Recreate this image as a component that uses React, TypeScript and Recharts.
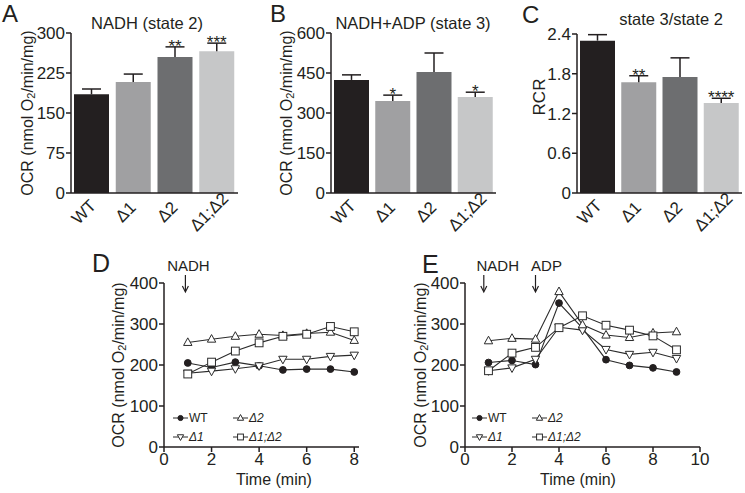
import React from 'react';
import {
  ComposedChart,
  Bar,
  XAxis,
  YAxis,
  Cell,
  LabelList,
  Label,
  LineChart,
  Line,
  ReferenceDot,
  Legend,
} from 'recharts';

// ---------- data ----------
const categories = ['WT', 'Δ1', 'Δ2', 'Δ1;Δ2'];
const barColors = ['#231f20', '#a0a0a2', '#6d6e70', '#c6c7c8'];

const state2Mean = [185, 208, 255, 266];
const state2Err = [10, 15, 19, 15];
const state2Sig = ['', '', '**', '***'];
const state2Ticks = [0, 75, 150, 225, 300];

const state3Mean = [424, 345, 454, 360];
const state3Err = [19, 22, 71, 18];
const state3Sig = ['', '*', '', '*'];
const state3Ticks = [0, 150, 300, 450, 600];

const rcrMean = [2.3, 1.67, 1.75, 1.36];
const rcrErr = [0.09, 0.1, 0.29, 0.07];
const rcrSig = ['', '**', '', '****'];
const rcrTicks = [0, 0.6, 1.2, 1.8, 2.4];

const timeD = [1, 2, 3, 4, 5, 6, 7, 8];
const dWT = [205, 194, 207, 198, 188, 190, 190, 183];
const dD1 = [180, 185, 191, 198, 214, 214, 221, 224];
const dD2 = [255, 263, 270, 275, 272, 277, 280, 260];
const dD12 = [178, 207, 234, 254, 270, 275, 294, 281];
const timeDTicks = [0, 2, 4, 6, 8];

const timeE = [1, 2, 3, 4, 5, 6, 7, 8, 9];
const eWT = [206, 211, 201, 351, 290, 213, 199, 193, 183];
const eD1 = [186, 193, 214, 292, 285, 238, 226, 231, 216];
const eD2 = [259, 265, 263, 379, 298, 273, 267, 278, 281];
const eD12 = [186, 229, 243, 291, 320, 297, 285, 271, 237];
const timeETicks = [0, 2, 4, 6, 8, 10];

const ocrTicks = [0, 100, 200, 300, 400];

// ---------- style ----------
const FONT = '"Liberation Sans", Arial, Helvetica, sans-serif';
const INK = '#231f20';
const LINE = '#2b2b2b';
const TICK_FS = 17;

const OcrText = ({ cx, cy }: { cx: number; cy: number }) => (
  <text
    x={cx}
    y={cy}
    transform={`rotate(-90 ${cx} ${cy})`}
    textAnchor="middle"
    dominantBaseline="central"
    fontSize={16}
    fill={INK}
    fontFamily={FONT}
  >
    OCR (nmol O<tspan fontSize={11} dy={4}>2</tspan>
    <tspan dy={-4}>/min/mg)</tspan>
  </text>
);

const CatTick = (props: any) => {
  const { x, y, payload } = props;
  const ax = x - 8;
  const ay = y + 11;
  return (
    <text
      x={ax}
      y={ay}
      transform={`rotate(-45 ${ax} ${ay})`}
      textAnchor="middle"
      dominantBaseline="central"
      fontSize={17}
      fill={INK}
      fontFamily={FONT}
    >
      {payload.value}
    </text>
  );
};

const ErrShape = (props: any) => {
  const { x, y, width, height } = props;
  if (x == null || y == null) return null;
  const cx = x + width / 2;
  return (
    <g>
      <line x1={cx} x2={cx} y1={y} y2={y + height} stroke={INK} strokeWidth={1.5} />
      <line x1={cx - 9.5} x2={cx + 9.5} y1={y} y2={y} stroke={INK} strokeWidth={1.5} />
    </g>
  );
};

type BarPanelProps = {
  left: number;
  top: number;
  width: number;
  height: number;
  yWidth: number;
  mTop: number;
  mRight: number;
  means: number[];
  errs: number[];
  sigs: string[];
  ticks: number[];
  yLabel: 'ocr' | 'rcr';
  labelX: number;
  labelY?: number;
};

const BarPanel = (p: BarPanelProps) => {
  const data = categories.map((c, i) => ({
    name: c,
    mean: p.means[i],
    err: p.errs[i],
    sig: p.sigs[i],
  }));
  return (
    <div style={{ position: 'absolute', left: p.left, top: p.top }}>
      <ComposedChart
        width={p.width}
        height={p.height}
        data={data}
        margin={{ top: p.mTop, right: p.mRight, bottom: 0, left: 0 }}
      >
        <XAxis
          dataKey="name"
          height={47}
          interval={0}
          tickLine={false}
          axisLine={{ stroke: INK, strokeWidth: 1.5 }}
          tick={<CatTick />}
        />
        <YAxis
          width={p.yWidth}
          domain={[p.ticks[0], p.ticks[p.ticks.length - 1]]}
          ticks={p.ticks}
          interval={0}
          tickSize={5}
          tickMargin={1}
          axisLine={{ stroke: INK, strokeWidth: 1.5 }}
          tickLine={{ stroke: INK, strokeWidth: 1.5 }}
          tick={{ fontSize: TICK_FS, fill: INK, fontFamily: FONT }}
        >
          <Label
            content={(lp: any) => {
              const vb = lp.viewBox;
              const cx = vb.x + p.labelX;
              const cy = p.labelY != null ? p.labelY : vb.y + vb.height / 2;
              if (p.yLabel === 'ocr') return <OcrText cx={cx} cy={cy} />;
              return (
                <text
                  x={cx}
                  y={cy}
                  transform={`rotate(-90 ${cx} ${cy})`}
                  textAnchor="middle"
                  dominantBaseline="central"
                  fontSize={17}
                  fill={INK}
                  fontFamily={FONT}
                >
                  RCR
                </text>
              );
            }}
          />
        </YAxis>
        <Bar dataKey="mean" stackId="s" barSize={35} isAnimationActive={false}>
          {data.map((d, i) => (
            <Cell key={d.name} fill={barColors[i]} />
          ))}
        </Bar>
        <Bar
          dataKey="err"
          stackId="s"
          barSize={35}
          isAnimationActive={false}
          shape={ErrShape}
        >
          <LabelList
            dataKey="sig"
            position="top"
            offset={-5}
            style={{ fontSize: 17, fill: INK, fontFamily: FONT }}
          />
        </Bar>
      </ComposedChart>
    </div>
  );
};

// ---------- markers ----------
const drawMarker = (type: string, cx: number, cy: number, s = 1) => {
  if (type === 'circle') return <circle cx={cx} cy={cy} r={3.4 * s} fill={INK} stroke={INK} />;
  if (type === 'up')
    return (
      <polygon
        points={`${cx},${cy - 4.6 * s} ${cx - 4.2 * s},${cy + 3 * s} ${cx + 4.2 * s},${cy + 3 * s}`}
        fill="#fff"
        stroke={LINE}
        strokeWidth={1}
      />
    );
  if (type === 'down')
    return (
      <polygon
        points={`${cx},${cy + 4.6 * s} ${cx - 4.2 * s},${cy - 3 * s} ${cx + 4.2 * s},${cy - 3 * s}`}
        fill="#fff"
        stroke={LINE}
        strokeWidth={1}
      />
    );
  return (
    <rect
      x={cx - 3.9 * s}
      y={cy - 3.9 * s}
      width={7.8 * s}
      height={7.8 * s}
      fill="#fff"
      stroke={LINE}
      strokeWidth={1}
    />
  );
};

const makeDot = (type: string) => (props: any) => {
  const { cx, cy, index } = props;
  if (cx == null || cy == null) return <g key={`n-${index}`} />;
  return <g key={`${type}-${index}`}>{drawMarker(type, cx, cy)}</g>;
};

const seriesDefs = [
  { key: 'wt', name: 'WT', marker: 'circle', italic: false },
  { key: 'd1', name: 'Δ1', marker: 'down', italic: true },
  { key: 'd2', name: 'Δ2', marker: 'up', italic: true },
  { key: 'd12', name: 'Δ1;Δ2', marker: 'square', italic: true },
];

const LegendItem = ({ def }: { def: (typeof seriesDefs)[number] }) => (
  <div style={{ display: 'flex', alignItems: 'center', height: 19 }}>
    <svg width={15} height={10} style={{ display: 'block' }}>
      <line x1={0} x2={15} y1={5} y2={5} stroke={LINE} strokeWidth={1} />
      {drawMarker(def.marker, 7.5, 5, 0.75)}
    </svg>
    <span
      style={{
        fontFamily: FONT,
        fontSize: 12,
        color: INK,
        fontStyle: def.italic ? 'italic' : 'normal',
        marginLeft: 1,
        lineHeight: '12px',
      }}
    >
      {def.name}
    </span>
  </div>
);

const LegendContent = () => {
  const order = [seriesDefs[0], seriesDefs[2], seriesDefs[1], seriesDefs[3]];
  return (
    <div style={{ display: 'grid', gridTemplateColumns: '60px 80px' }}>
      {order.map((d) => (
        <LegendItem key={d.key} def={d} />
      ))}
    </div>
  );
};

const ArrowNote = (text: string, dx: number) => (props: any) => {
  const { cx, cy } = props;
  if (cx == null || cy == null) return <g />;
  return (
    <g>
      <text
        x={cx + dx}
        y={cy - 12}
        textAnchor="middle"
        fontSize={15}
        fill={INK}
        fontFamily={FONT}
      >
        {text}
      </text>
      <line x1={cx} x2={cx} y1={cy - 8} y2={cy + 8} stroke={INK} strokeWidth={1.2} />
      <path d={`M${cx - 3},${cy + 3} L${cx},${cy + 9} L${cx + 3},${cy + 3}`} fill="none" stroke={INK} strokeWidth={1.2} />
    </g>
  );
};

type LinePanelProps = {
  left: number;
  top: number;
  width: number;
  height: number;
  yWidth: number;
  mRight: number;
  times: number[];
  wt: number[];
  d1: number[];
  d2: number[];
  d12: number[];
  xDomain: [number, number];
  xTicks: number[];
  labelX: number;
  timeLabelDx: number;
  legendLeft: number;
  notes: { x: number; text: string; dx: number }[];
};

const LinePanel = (p: LinePanelProps) => {
  const data = p.times.map((t, i) => ({
    t,
    wt: p.wt[i],
    d1: p.d1[i],
    d2: p.d2[i],
    d12: p.d12[i],
  }));
  return (
    <div style={{ position: 'absolute', left: p.left, top: p.top }}>
      <LineChart
        width={p.width}
        height={p.height}
        data={data}
        margin={{ top: 33, right: p.mRight, bottom: 0, left: 0 }}
      >
        <XAxis
          dataKey="t"
          type="number"
          domain={p.xDomain}
          ticks={p.xTicks}
          interval={0}
          height={43}
          tickSize={5}
          tickMargin={1}
          axisLine={{ stroke: INK, strokeWidth: 1.5 }}
          tickLine={{ stroke: INK, strokeWidth: 1.5 }}
          tick={{ fontSize: TICK_FS, fill: INK, fontFamily: FONT }}
        >
          <Label
            content={(lp: any) => {
              const vb = lp.viewBox;
              return (
                <text
                  x={vb.x + p.timeLabelDx}
                  y={vb.y + 38}
                  textAnchor="middle"
                  fontSize={16}
                  fill={INK}
                  fontFamily={FONT}
                >
                  Time (min)
                </text>
              );
            }}
          />
        </XAxis>
        <YAxis
          width={p.yWidth}
          domain={[0, 400]}
          ticks={ocrTicks}
          interval={0}
          tickSize={5}
          tickMargin={1}
          axisLine={{ stroke: INK, strokeWidth: 1.5 }}
          tickLine={{ stroke: INK, strokeWidth: 1.5 }}
          tick={{ fontSize: TICK_FS, fill: INK, fontFamily: FONT }}
        >
          <Label
            content={(lp: any) => {
              const vb = lp.viewBox;
              return <OcrText cx={vb.x + p.labelX} cy={vb.y + vb.height / 2} />;
            }}
          />
        </YAxis>
        {p.notes.map((n) => (
          <ReferenceDot
            key={n.text}
            x={n.x}
            y={400}
            ifOverflow="visible"
            shape={ArrowNote(n.text, n.dx)}
          />
        ))}
        {seriesDefs.map((s) => (
          <Line
            key={s.key}
            dataKey={s.key}
            name={s.name}
            stroke={LINE}
            strokeWidth={1.1}
            dot={makeDot(s.marker)}
            activeDot={false}
            isAnimationActive={false}
          />
        ))}
        <Legend
          layout="vertical"
          align="center"
          verticalAlign="middle"
          wrapperStyle={{ left: p.legendLeft, top: 158, width: 150, height: 40 }}
          content={() => <LegendContent />}
        />
      </LineChart>
    </div>
  );
};

const Headings = () => (
  <svg
    width={745}
    height={493}
    style={{ position: 'absolute', left: 0, top: 0, pointerEvents: 'none' }}
  >
    <g fontFamily={FONT} fill={INK}>
      <text x={2} y={22} fontSize={24}>A</text>
      <text x={270} y={22} fontSize={24}>B</text>
      <text x={522} y={23} fontSize={24}>C</text>
      <text x={92} y={272} fontSize={25}>D</text>
      <text x={422} y={273} fontSize={25}>E</text>
      <text x={147} y={28.5} fontSize={16.5} textAnchor="middle">NADH (state 2)</text>
      <text x={413} y={28.5} fontSize={16.5} textAnchor="middle">NADH+ADP (state 3)</text>
      <text x={671} y={25} fontSize={16.5} textAnchor="middle">state 3/state 2</text>
    </g>
  </svg>
);

export default function App() {
  return (
    <div
      style={{
        position: 'absolute',
        left: 0,
        top: 0,
        width: 745,
        height: 493,
        background: '#fff',
        overflow: 'hidden',
        fontFamily: FONT,
      }}
    >
      <BarPanel
        left={0}
        top={0}
        width={250}
        height={240}
        yWidth={71}
        mTop={33}
        mRight={12}
        means={state2Mean}
        errs={state2Err}
        sigs={state2Sig}
        ticks={state2Ticks}
        yLabel="ocr"
        labelX={27}
      />
      <BarPanel
        left={245}
        top={0}
        width={255}
        height={240}
        yWidth={86}
        mTop={33}
        mRight={4}
        means={state3Mean}
        errs={state3Err}
        sigs={state3Sig}
        ticks={state3Ticks}
        yLabel="ocr"
        labelX={41}
      />
      <BarPanel
        left={490}
        top={0}
        width={255}
        height={240}
        yWidth={87}
        mTop={34}
        mRight={3}
        means={rcrMean}
        errs={rcrErr}
        sigs={rcrSig}
        ticks={rcrTicks}
        yLabel="rcr"
        labelX={49}
        labelY={97}
      />
      <LinePanel
        left={90}
        top={250}
        width={280}
        height={240}
        yWidth={74}
        mRight={11}
        times={timeD}
        wt={dWT}
        d1={dD1}
        d2={dD2}
        d12={dD12}
        xDomain={[0, 8.2]}
        xTicks={timeDTicks}
        labelX={28}
        timeLabelDx={110}
        legendLeft={83}
        notes={[{ x: 0.9, text: 'NADH', dx: 3 }]}
      />
      <LinePanel
        left={400}
        top={250}
        width={330}
        height={240}
        yWidth={65}
        mRight={30}
        times={timeE}
        wt={eWT}
        d1={eD1}
        d2={eD2}
        d12={eD12}
        xDomain={[0, 10]}
        xTicks={timeETicks}
        labelX={20}
        timeLabelDx={113}
        legendLeft={72}
        notes={[
          { x: 0.8, text: 'NADH', dx: 14 },
          { x: 3, text: 'ADP', dx: 11 },
        ]}
      />
      <Headings />
    </div>
  );
}
